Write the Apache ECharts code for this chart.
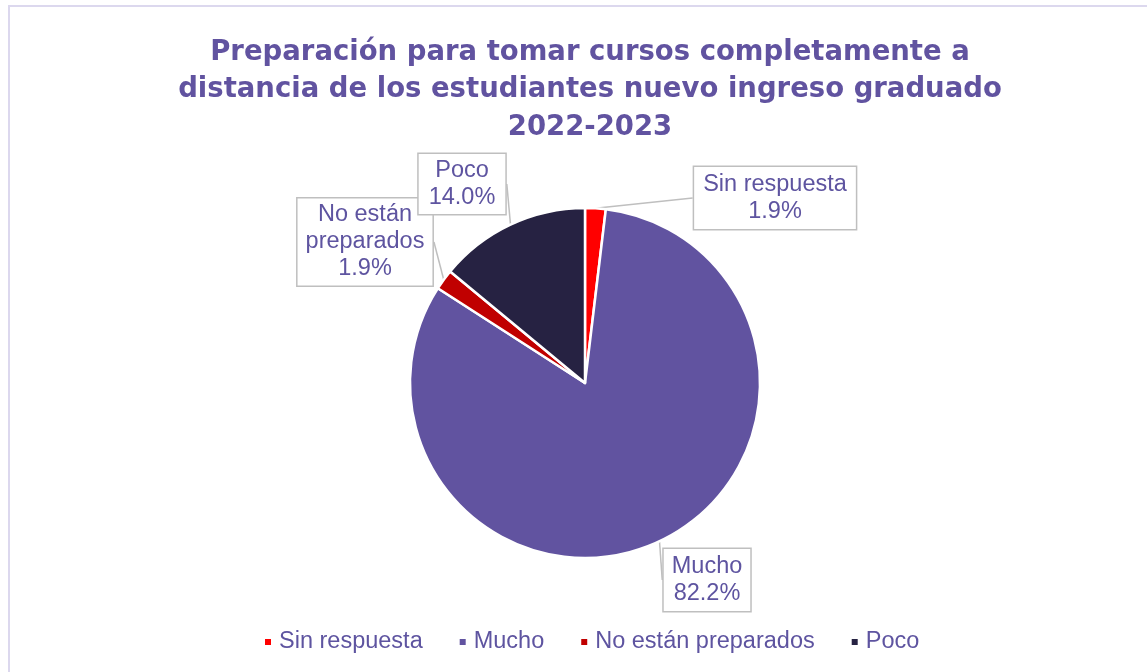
<!DOCTYPE html>
<html>
<head>
<meta charset="utf-8">
<script src="https://cdn.jsdelivr.net/npm/echarts@6/dist/echarts.min.js"></script>
<style>
html,body{margin:0;padding:0;background:#fff;}
#main{width:1147px;height:672px;}
</style>
</head>
<body>
<div id="main"></div>
<script>
const titleText = 'Preparación para tomar cursos completamente a\ndistancia de los estudiantes nuevo ingreso graduado\n2022-2023';
const categories = ['Sin respuesta', 'Mucho', 'No están preparados', 'Poco'];
const labelNames = ['Sin respuesta', 'Mucho', 'No están\npreparados', 'Poco'];
const values = [1.9, 82.2, 1.9, 14.0];
const colors = ['#FF0000', '#6153A0', '#C00000', '#262242'];
const labelPos = [[775, 198], [707, 580], [365, 242], [462, 184]];
const labelPad = [[4, 9], [4, 8], [3, 8], [3, 10]];

const chart = echarts.init(document.getElementById('main'));
const textColor = '#5E54A0';

chart.setOption({
  animation: false,
  graphic: [{
    type: 'rect',
    shape: {x: 9, y: 6, width: 1160, height: 700},
    style: {fill: 'none', stroke: '#DCD8EE', lineWidth: 2},
    silent: true, z: -1
  }],
  title: {
    text: titleText,
    left: 585,
    textAlign: 'center',
    top: 29,
    textStyle: {
      fontFamily: 'DejaVu Sans, sans-serif',
      fontWeight: 'bold',
      fontSize: 27.5,
      lineHeight: 37.5,
      color: '#6153A0'
    }
  },
  legend: {
    bottom: 18,
    left: 263,
    padding: 0,
    icon: 'rect',
    itemWidth: 8,
    itemHeight: 8,
    itemGap: 35,
    data: categories,
    textStyle: {
      fontFamily: 'Liberation Sans, Arial, sans-serif',
      fontSize: 23.5,
      color: textColor,
      padding: [0, 0, 0, 2]
    }
  },
  series: [{
    type: 'pie',
    center: [585, 383],
    radius: [0, 175],
    startAngle: 90,
    clockwise: true,
    itemStyle: {borderColor: '#fff', borderWidth: 2.5},
    label: {
      show: true,
      position: 'outside',
      fontFamily: 'Liberation Sans, Arial, sans-serif',
      fontSize: 23.5,
      lineHeight: 27,
      color: textColor,
      align: 'center',
      backgroundColor: '#fff',
      borderColor: '#BFBFBF',
      borderWidth: 1.5,
      formatter: function (p) { return labelNames[p.dataIndex] + '\n' + p.value.toFixed(1) + '%'; }
    },
    labelLine: {
      show: true,
      lineStyle: {color: '#BFBFBF', width: 1.5},
      length: 6,
      length2: 0
    },
    labelLayout: function (p) {
      const pos = labelPos[p.dataIndex];
      return {x: pos[0], y: pos[1], align: 'center', verticalAlign: 'middle'};
    },
    emphasis: {disabled: true},
    data: categories.map((c, i) => ({
      name: c,
      value: values[i],
      itemStyle: {color: colors[i]},
      label: {padding: labelPad[i]}
    }))
  }]
});
</script>
</body>
</html>
